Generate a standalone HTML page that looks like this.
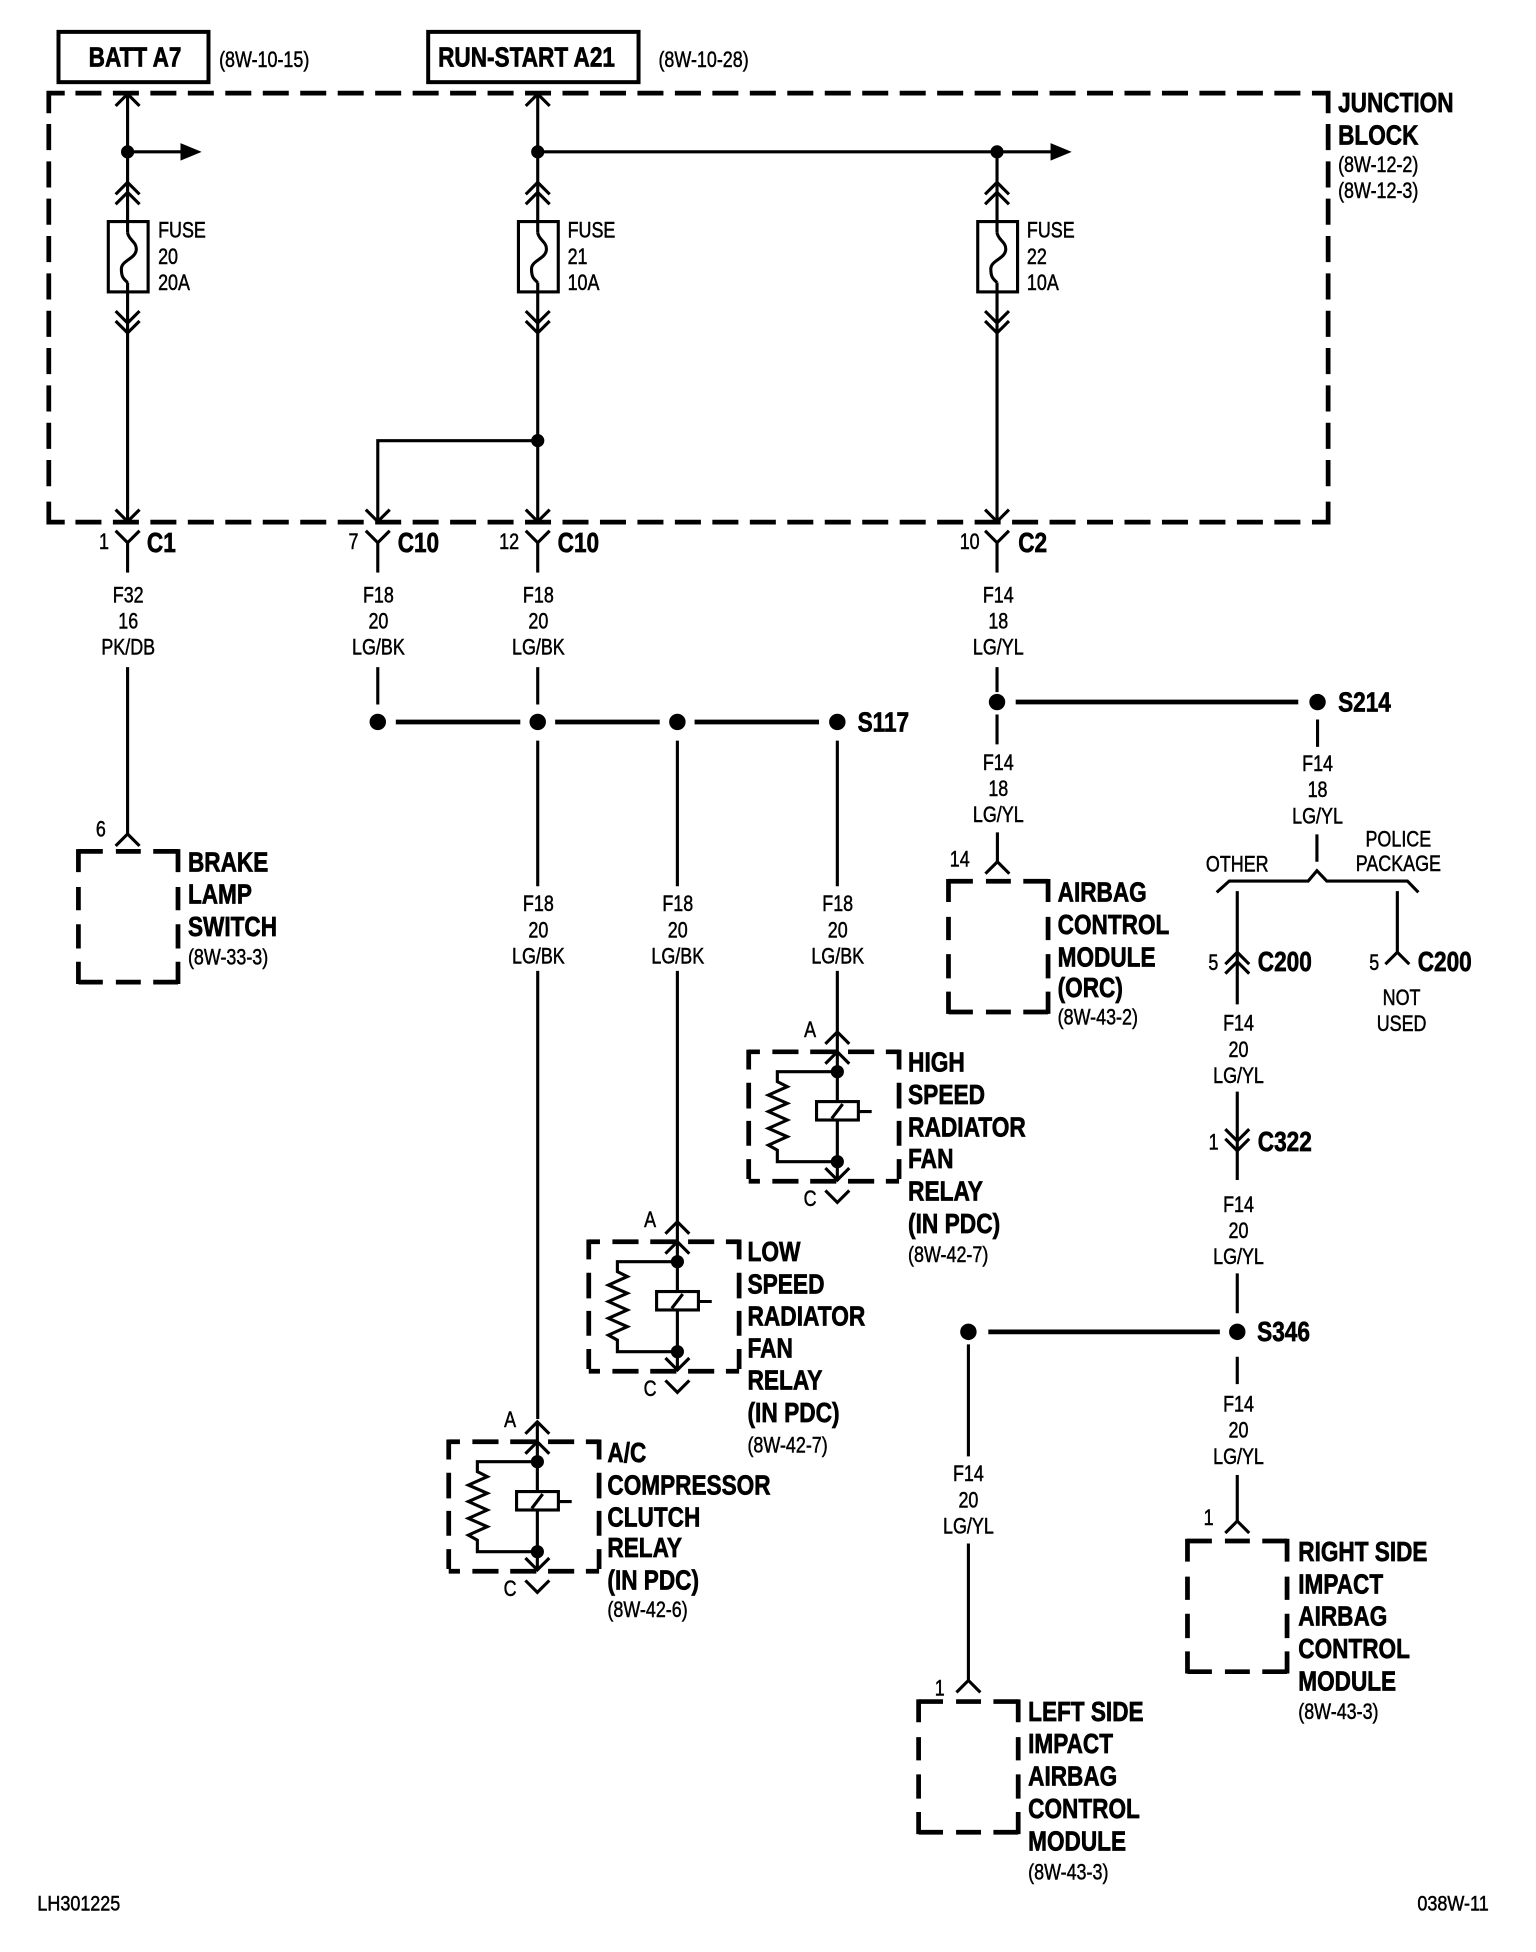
<!DOCTYPE html>
<html><head><meta charset="utf-8"><style>
html,body{margin:0;padding:0;background:#fff}
svg{display:block}
text{font-family:"Liberation Sans",sans-serif;fill:#000;stroke:#000;stroke-width:.4}
.r{font-size:18px}
.b{font-size:22px;font-weight:bold;stroke-width:.55}
.s{font-size:17px}
.m{text-anchor:middle}
.w{fill:none;stroke:#000;stroke-width:2.5}
.t{fill:none;stroke:#000;stroke-width:3.8}
.bx{fill:none;stroke:#000;stroke-width:3.8}
.d{fill:#000}
</style></head><body>
<svg xmlns="http://www.w3.org/2000/svg" width="1536" height="1952" viewBox="0 0 1234 1568.2">
<defs>
<path id="u" class="w" d="M-9.6 9.6L0 0L9.6 9.6"/>
<path id="v" class="w" d="M-9.6 -9.6L0 0L9.6 -9.6"/>
<g id="fuse">
<use href="#u" y="146.5"/><use href="#u" y="154.5"/>
<rect class="w" x="-15.5" y="178" width="32" height="56.5"/>
<path class="w" d="M0 187C1 193 7 194 7 200C7 208 -5 209 -5 216C-5 223 -3 224 0 227"/>
<use href="#v" y="259.5"/><use href="#v" y="267.5"/>
<use href="#v" y="419"/><use href="#v" y="436"/>
<path class="w" d="M0 436V460"/>
</g>
<g id="relay">
<use href="#u" x="672.7" y="829"/><use href="#u" x="672.7" y="845"/>
<path class="w" d="M672.7 829V948"/>
<use href="#v" x="672.7" y="948"/><use href="#v" x="672.7" y="966"/>
<path class="bx" stroke-dasharray="9 10 21 9.4 21 9.4 21 9.4 11" d="M601.5 845H722.3"/>
<path class="bx" stroke-dasharray="9 10 21 9.4 21 9.4 21 9.4 11" d="M601.5 949H722.3"/>
<path class="bx" stroke-dasharray="16 10.7 20.6 10 20 10.7 16" d="M601.5 843.2V950.8"/>
<path class="bx" stroke-dasharray="16 10.7 20.6 10 20 10.7 16" d="M722.3 843.2V950.8"/>
<circle class="d" cx="672.7" cy="861" r="5.3"/><circle class="d" cx="672.7" cy="933.3" r="5.3"/>
<path class="w" d="M672.7 861H624.5V869L632.5 873L617.3 879.8L632.5 886.4L617.3 893L632.5 899.8L617.3 906.5L632.5 913.2L617.3 920L624.5 924V933.3H672.7"/>
<rect x="656" y="885" width="33.6" height="14.8" fill="#fff" stroke="#000" stroke-width="2.5"/>
<path class="w" d="M668.2 898.5L677 887M689.6 893H700.3"/>
</g>
<g id="mod">
<path class="bx" stroke-dasharray="19.6 10.5 20 10 20" d="M0 0H80"/>
<path class="bx" stroke-dasharray="19.6 10.5 20 10 20" d="M0 105H80"/>
<path class="bx" stroke-dasharray="18.4 12 18.7 11.2 19.5 10.7 17.8" d="M0 -1.8V106.8"/>
<path class="bx" stroke-dasharray="18.4 12 18.7 11.2 19.5 10.7 17.8" d="M80 -1.8V106.8"/>
</g>
</defs>

<!-- header boxes -->
<rect x="47" y="25.6" width="120.5" height="40.4" fill="none" stroke="#000" stroke-width="3.2"/>
<rect x="344" y="25.6" width="169" height="40.4" fill="none" stroke="#000" stroke-width="3.2"/>
<text class="b m" transform="translate(108.5 53.5) scale(.825 1)">BATT A7</text>
<text class="b m" transform="translate(423 53.5) scale(.825 1)">RUN-START A21</text>
<text class="r" transform="translate(176 54) scale(.8 1)">(8W-10-15)</text>
<text class="r" transform="translate(529 54) scale(.8 1)">(8W-10-28)</text>

<!-- junction block -->
<path class="bx" stroke-dasharray="20.9 9.2" d="M60.6 74.8H1053"/>
<path class="bx" stroke-dasharray="20.9 9.2" d="M60.6 419.5H1053"/>
<path class="bx" d="M52 74.8H39.2V91M1054 74.8H1067V91M39.2 403V419.5H52M1067 403V419.5H1054"/>
<path class="bx" stroke-dasharray="21 9" d="M39.2 99.6V396"/>
<path class="bx" stroke-dasharray="21 9" d="M1067 99.6V396"/>
<text class="b" transform="translate(1075 90) scale(.825 1)"><tspan x="0">JUNCTION</tspan><tspan x="0" dy="26">BLOCK</tspan></text>
<text class="r" transform="translate(1075 138) scale(.8 1)"><tspan x="0">(8W-12-2)</tspan><tspan x="0" dy="21">(8W-12-3)</tspan></text>

<!-- columns -->
<use href="#fuse" x="102.5"/><use href="#fuse" x="432"/><use href="#fuse" x="801"/>
<use href="#u" x="102.5" y="75.5"/><use href="#u" x="432" y="75.5"/>
<path class="w" d="M102.5 75.5V187M102.5 227V419M432 75.5V187M432 227V419M801 122V187M801 227V419"/>
<circle class="d" cx="102.5" cy="122" r="5.3"/><circle class="d" cx="432" cy="122" r="5.3"/><circle class="d" cx="801" cy="122" r="5.3"/>
<path class="w" d="M102.5 122H146M432 122H846"/>
<path class="d" d="M145 115L162 122L145 129ZM844 115L861 122L844 129Z"/>
<circle class="d" cx="432" cy="354" r="5.3"/>
<path class="w" d="M432 354H303.5V419"/>
<use href="#v" x="303.5" y="419"/><use href="#v" x="303.5" y="436"/>
<path class="w" d="M303.5 436V460"/>

<text class="r" transform="translate(127 191) scale(.8 1)"><tspan x="0">FUSE</tspan><tspan x="0" dy="21">20</tspan><tspan x="0" dy="21">20A</tspan></text>
<text class="r" transform="translate(456 191) scale(.8 1)"><tspan x="0">FUSE</tspan><tspan x="0" dy="21">21</tspan><tspan x="0" dy="21">10A</tspan></text>
<text class="r" transform="translate(825 191) scale(.8 1)"><tspan x="0">FUSE</tspan><tspan x="0" dy="21">22</tspan><tspan x="0" dy="21">10A</tspan></text>

<!-- connector labels -->
<text class="r m" transform="translate(83.5 441) scale(.8 1)">1</text>
<text class="b" transform="translate(118 443.5) scale(.825 1)">C1</text>
<text class="r m" transform="translate(284 441) scale(.8 1)">7</text>
<text class="b" transform="translate(319.5 443.5) scale(.825 1)">C10</text>
<text class="r m" transform="translate(409 441) scale(.8 1)">12</text>
<text class="b" transform="translate(448 443.5) scale(.825 1)">C10</text>
<text class="r m" transform="translate(779 441) scale(.8 1)">10</text>
<text class="b" transform="translate(818 443.5) scale(.825 1)">C2</text>

<text class="r m" transform="translate(103 484) scale(.8 1)"><tspan x="0">F32</tspan><tspan x="0" dy="21">16</tspan><tspan x="0" dy="21">PK/DB</tspan></text>
<text class="r m" transform="translate(304 484) scale(.8 1)"><tspan x="0">F18</tspan><tspan x="0" dy="21">20</tspan><tspan x="0" dy="21">LG/BK</tspan></text>
<text class="r m" transform="translate(432.5 484) scale(.8 1)"><tspan x="0">F18</tspan><tspan x="0" dy="21">20</tspan><tspan x="0" dy="21">LG/BK</tspan></text>
<text class="r m" transform="translate(802 484) scale(.8 1)"><tspan x="0">F14</tspan><tspan x="0" dy="21">18</tspan><tspan x="0" dy="21">LG/YL</tspan></text>

<!-- lower wires -->
<path class="w" d="M102.5 536V670"/>
<use href="#u" x="102.5" y="670"/>
<text class="r m" transform="translate(81 672) scale(.8 1)">6</text>
<use href="#mod" transform="translate(63 684)"/>
<text class="b" transform="translate(151 700) scale(.825 1)"><tspan x="0">BRAKE</tspan><tspan x="0" dy="26">LAMP</tspan><tspan x="0" dy="26">SWITCH</tspan></text>
<text class="r" transform="translate(151 775) scale(.8 1)">(8W-33-3)</text>

<path class="w" d="M303.5 536V566M432 536V566M432 595V712M432 780V1140M544.2 595V712M544.2 780V982M672.7 595V712M672.7 780V830"/>
<path class="t" d="M318 580H418M446 580H530M558 580H658"/>
<circle class="d" cx="303.5" cy="580" r="6.6"/><circle class="d" cx="432" cy="580" r="6.6"/><circle class="d" cx="544.2" cy="580" r="6.6"/><circle class="d" cx="672.7" cy="580" r="6.6"/>
<text class="b" transform="translate(689 587.5) scale(.825 1)">S117</text>

<text class="r m" transform="translate(432.5 732) scale(.8 1)"><tspan x="0">F18</tspan><tspan x="0" dy="21">20</tspan><tspan x="0" dy="21">LG/BK</tspan></text>
<text class="r m" transform="translate(544.5 732) scale(.8 1)"><tspan x="0">F18</tspan><tspan x="0" dy="21">20</tspan><tspan x="0" dy="21">LG/BK</tspan></text>
<text class="r m" transform="translate(673 732) scale(.8 1)"><tspan x="0">F18</tspan><tspan x="0" dy="21">20</tspan><tspan x="0" dy="21">LG/BK</tspan></text>

<!-- relays -->
<use href="#relay"/>
<use href="#relay" transform="translate(-128.5 152.6)"/>
<use href="#relay" transform="translate(-241 313.3)"/>
<text class="r m" transform="translate(650.8 833) scale(.8 1)">A</text>
<text class="r m" transform="translate(650.8 969) scale(.8 1)">C</text>
<text class="r m" transform="translate(522.3 985.6) scale(.8 1)">A</text>
<text class="r m" transform="translate(522.3 1121.6) scale(.8 1)">C</text>
<text class="r m" transform="translate(409.8 1146.3) scale(.8 1)">A</text>
<text class="r m" transform="translate(409.8 1282.3) scale(.8 1)">C</text>

<text class="b" transform="translate(729.5 861) scale(.83 1)"><tspan x="0">HIGH</tspan><tspan x="0" dy="26">SPEED</tspan><tspan x="0" dy="26">RADIATOR</tspan><tspan x="0" dy="25.5">FAN</tspan><tspan x="0" dy="26">RELAY</tspan><tspan x="0" dy="26">(IN PDC)</tspan></text>
<text class="r" transform="translate(729.5 1014) scale(.8 1)">(8W-42-7)</text>
<text class="b" transform="translate(600.5 1013) scale(.83 1)"><tspan x="0">LOW</tspan><tspan x="0" dy="26">SPEED</tspan><tspan x="0" dy="26">RADIATOR</tspan><tspan x="0" dy="25.5">FAN</tspan><tspan x="0" dy="26">RELAY</tspan><tspan x="0" dy="26">(IN PDC)</tspan></text>
<text class="r" transform="translate(600.5 1167) scale(.8 1)">(8W-42-7)</text>
<text class="b" transform="translate(488 1174.5) scale(.825 1)"><tspan x="0">A/C</tspan><tspan x="0" dy="26">COMPRESSOR</tspan><tspan x="0" dy="26">CLUTCH</tspan><tspan x="0" dy="24.5">RELAY</tspan><tspan x="0" dy="26">(IN PDC)</tspan></text>
<text class="r" transform="translate(488 1299) scale(.8 1)">(8W-42-6)</text>

<!-- right side: airbag -->
<circle class="d" cx="801" cy="564" r="6.6"/><circle class="d" cx="1058.5" cy="564" r="6.6"/>
<path class="t" d="M816 564H1043"/>
<text class="b" transform="translate(1075 571.5) scale(.825 1)">S214</text>
<path class="w" d="M801 536V556M801 574V598M1058.5 578V600M801.3 668.7V692.3M1058 670.3V692.3"/>
<text class="r m" transform="translate(802 618.5) scale(.8 1)"><tspan x="0">F14</tspan><tspan x="0" dy="21">18</tspan><tspan x="0" dy="21">LG/YL</tspan></text>
<text class="r m" transform="translate(1058.5 619.5) scale(.8 1)"><tspan x="0">F14</tspan><tspan x="0" dy="21">18</tspan><tspan x="0" dy="21">LG/YL</tspan></text>
<use href="#u" x="801.3" y="692.3"/>
<text class="r m" transform="translate(771 696) scale(.8 1)">14</text>
<use href="#mod" transform="translate(762 708)"/>
<text class="b" transform="translate(849.7 724.4) scale(.825 1)"><tspan x="0">AIRBAG</tspan><tspan x="0" dy="26">CONTROL</tspan><tspan x="0" dy="26">MODULE</tspan><tspan x="0" dy="24.5">(ORC)</tspan></text>
<text class="r" transform="translate(849.7 823) scale(.8 1)">(8W-43-2)</text>

<path class="w" d="M977.5 716.9L987.6 707.8H1051L1058 699.5L1065.9 707.8H1130.7L1139.5 716.9"/>
<text class="r m" transform="translate(994 700.3) scale(.8 1)">OTHER</text>
<text class="r m" transform="translate(1123.4 680.2) scale(.8 1)"><tspan x="0">POLICE</tspan><tspan x="0" dy="19.6">PACKAGE</tspan></text>

<path class="w" d="M994 715.9V806.9M1122.6 715.9V765M994 877V948M994 1023V1055M994 1090V1112M994 1185V1222M778 1080V1170M778 1240V1350"/>
<use href="#u" x="994" y="765"/><use href="#u" x="994" y="772.6"/>
<use href="#u" x="1122.6" y="765"/>
<text class="r m" transform="translate(974.8 779.3) scale(.8 1)">5</text>
<text class="b" transform="translate(1010.5 780) scale(.825 1)">C200</text>
<text class="r m" transform="translate(1104 779.3) scale(.8 1)">5</text>
<text class="b" transform="translate(1139 780) scale(.825 1)">C200</text>
<text class="r m" transform="translate(1126 807.4) scale(.8 1)"><tspan x="0">NOT</tspan><tspan x="0" dy="21">USED</tspan></text>
<text class="r m" transform="translate(995 828) scale(.8 1)"><tspan x="0">F14</tspan><tspan x="0" dy="21">20</tspan><tspan x="0" dy="21">LG/YL</tspan></text>
<use href="#v" x="994" y="916.7"/><use href="#v" x="994" y="924.5"/>
<text class="r m" transform="translate(975 923.4) scale(.8 1)">1</text>
<text class="b" transform="translate(1010.5 924.5) scale(.825 1)">C322</text>
<text class="r m" transform="translate(995 973.5) scale(.8 1)"><tspan x="0">F14</tspan><tspan x="0" dy="21">20</tspan><tspan x="0" dy="21">LG/YL</tspan></text>

<circle class="d" cx="778" cy="1070" r="6.6"/><circle class="d" cx="994" cy="1070" r="6.6"/>
<path class="t" d="M794 1070H980"/>
<text class="b" transform="translate(1010 1077.5) scale(.825 1)">S346</text>
<text class="r m" transform="translate(995 1134) scale(.8 1)"><tspan x="0">F14</tspan><tspan x="0" dy="21">20</tspan><tspan x="0" dy="21">LG/YL</tspan></text>
<text class="r m" transform="translate(778 1190) scale(.8 1)"><tspan x="0">F14</tspan><tspan x="0" dy="21">20</tspan><tspan x="0" dy="21">LG/YL</tspan></text>

<use href="#u" x="994" y="1222"/>
<text class="r m" transform="translate(971 1225) scale(.8 1)">1</text>
<use href="#mod" transform="translate(954 1238)"/>
<text class="b" transform="translate(1043 1254) scale(.825 1)"><tspan x="0">RIGHT SIDE</tspan><tspan x="0" dy="26">IMPACT</tspan><tspan x="0" dy="26">AIRBAG</tspan><tspan x="0" dy="26">CONTROL</tspan><tspan x="0" dy="26">MODULE</tspan></text>
<text class="r" transform="translate(1043 1381) scale(.8 1)">(8W-43-3)</text>

<use href="#u" x="778" y="1350"/>
<text class="r m" transform="translate(755 1362) scale(.8 1)">1</text>
<use href="#mod" transform="translate(738 1367)"/>
<text class="b" transform="translate(826 1382.5) scale(.825 1)"><tspan x="0">LEFT SIDE</tspan><tspan x="0" dy="26">IMPACT</tspan><tspan x="0" dy="26">AIRBAG</tspan><tspan x="0" dy="26">CONTROL</tspan><tspan x="0" dy="26">MODULE</tspan></text>
<text class="r" transform="translate(826 1510) scale(.8 1)">(8W-43-3)</text>

<text class="s" transform="translate(30 1535) scale(.85 1)">LH301225</text>
<text class="s" transform="translate(1196 1535) scale(.85 1)" style="text-anchor:end">038W-11</text>
</svg>
</body></html>
